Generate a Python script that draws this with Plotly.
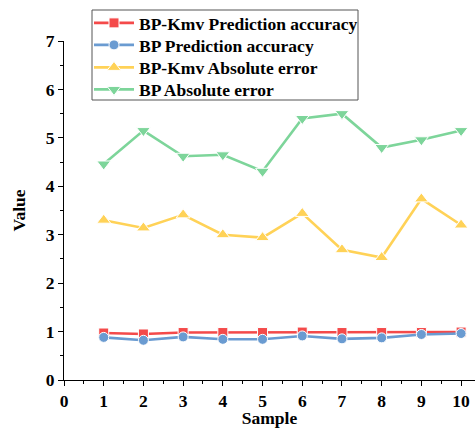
import plotly.graph_objects as go

samples = [1, 2, 3, 4, 5, 6, 7, 8, 9, 10]
bpkmv_acc = [0.97, 0.95, 0.98, 0.98, 0.98, 0.99, 0.98, 0.98, 0.98, 0.99]
bp_acc = [0.88, 0.82, 0.89, 0.84, 0.84, 0.91, 0.85, 0.87, 0.94, 0.96]
bpkmv_err = [3.30, 3.14, 3.41, 3.00, 2.94, 3.44, 2.69, 2.53, 3.74, 3.20]
bp_err = [4.46, 5.15, 4.62, 4.65, 4.31, 5.40, 5.50, 4.80, 4.96, 5.15]

series = [
    ("BP-Kmv Prediction accuracy", bpkmv_acc, "#f44a4a", "square", 10),
    ("BP Prediction accuracy", bp_acc, "#6a9bd1", "circle", 10),
    ("BP-Kmv Absolute error", bpkmv_err, "#ffd257", "triangle-up", 12),
    ("BP Absolute error", bp_err, "#7dd59a", "triangle-down", 12),
]

FS = 17.5
font = dict(family="Liberation Serif", size=FS, color="black", weight="bold")

# plot area geometry (pixels) used to place the legend rows
L, R, T, B, W, H = 64, 1, 41, 48, 476, 428
pw, ph = W - L - R, H - T - B
def px_x(x):
    return (x - L) / pw
def px_y(y):
    return (H - B - y) / ph

row_y = [23, 45, 67.5, 89.5]
legend_names = ["legend", "legend2", "legend3", "legend4"]

fig = go.Figure()
for (name, vals, color, sym, size), lg in zip(series, legend_names):
    fig.add_trace(go.Scatter(
        x=samples, y=vals, name=name, mode="lines+markers",
        line=dict(color=color, width=2.6),
        marker=dict(symbol=sym, size=size, color=color, line=dict(color="white", width=1)),
        legend=lg,
    ))

axis_common = dict(
    showgrid=False, zeroline=False, showline=True, linecolor="black", linewidth=1,
    ticks="outside", ticklen=5, tickwidth=1, tickcolor="black",
    tickfont=font, mirror=False,
    minor=dict(ticks="outside", ticklen=3, tickcolor="black", dtick=0.5, showgrid=False),
)

legend_layouts = {}
for lg, yc in zip(legend_names, row_y):
    legend_layouts[lg] = dict(
        x=px_x(89), y=px_y(yc), xanchor="left", yanchor="middle",
        bgcolor="rgba(0,0,0,0)", borderwidth=0, font=font, itemwidth=40,
    )

fig.update_layout(
    width=W, height=H,
    margin=dict(l=L, r=R, t=T, b=B),
    paper_bgcolor="white", plot_bgcolor="white",
    font=font,
    xaxis=dict(range=[0, 10.35], dtick=1, tick0=0,
               title=dict(text="Sample", font=font, standoff=3), **axis_common),
    yaxis=dict(range=[0, 7], dtick=1, tick0=0,
               title=dict(text="Value", font=font, standoff=15), **axis_common),
    shapes=[dict(type="rect", xref="paper", yref="paper",
                 x0=px_x(92), x1=px_x(358), y0=px_y(100), y1=px_y(10),
                 line=dict(color="#555555", width=1), fillcolor="white", layer="above")],
    showlegend=True,
    **legend_layouts,
)
fig.write_html("out.html")
